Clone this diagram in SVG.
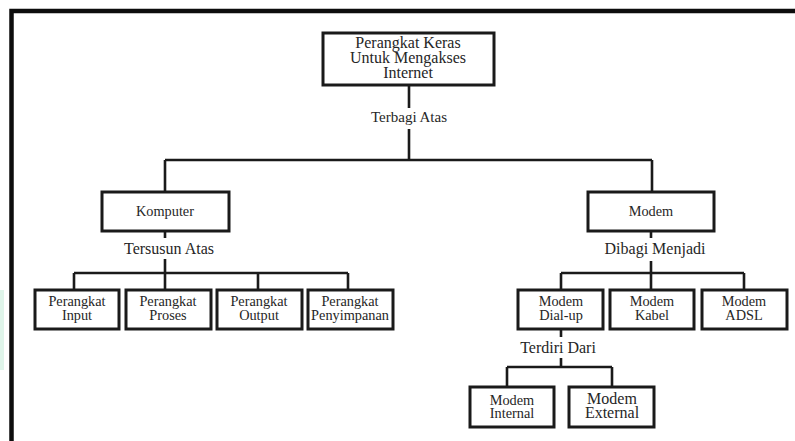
<svg xmlns="http://www.w3.org/2000/svg" width="795" height="441" viewBox="0 0 795 441">
  <style>
    .box { fill: #ffffff; stroke: #1a1a1a; stroke-width: 3; }
    .wire { fill: none; stroke: #1a1a1a; stroke-width: 2.6; }
    text { font-family: "Liberation Serif", "Times New Roman", serif; fill: #262626; text-anchor: middle; }
    .t16 { font-size: 16px; }
    .t15 { font-size: 15px; }
    .t14 { font-size: 14.3px; }
  </style>

  <!-- page background and frame -->
  <rect x="0" y="0" width="795" height="441" fill="#ffffff"/>
  <rect x="0" y="290" width="4" height="80" fill="#dff5ea"/>
  <path d="M11.5 441 V11 H795" fill="none" stroke="#0d0d0d" stroke-width="4.5"/>

  <!-- connectors -->
  <g id="connectors">
    <!-- root -->
    <path class="wire" d="M409 85 V108 M409 129 V160"/>
    <path class="wire" d="M165 160 H652 M165 160 V192 M652 160 V192"/>
    <!-- komputer -->
    <path class="wire" d="M165 231 V238 M165 259 V273"/>
    <path class="wire" d="M74 273 H348 M74 273 V290 M165 273 V290 M258 273 V290 M348 273 V290"/>
    <!-- modem -->
    <path class="wire" d="M651 231 V238 M651 261 V273"/>
    <path class="wire" d="M561 273 H744 M561 273 V290 M651 273 V290 M744 273 V290"/>
    <!-- dial-up -->
    <path class="wire" d="M561 330 V337 M561 358 V367"/>
    <path class="wire" d="M507 367 H612 M507 367 V387 M612 367 V387"/>
  </g>

  <!-- edge labels -->
  <text class="t15" x="409" y="122">Terbagi Atas</text>
  <text class="t16" x="169" y="254">Tersusun Atas</text>
  <text class="t16" x="655" y="254">Dibagi Menjadi</text>
  <text class="t16" x="558" y="353">Terdiri Dari</text>

  <!-- nodes -->
  <g id="root">
    <rect class="box" x="323" y="33" width="171" height="52"/>
    <text class="t16" x="408" y="48">Perangkat Keras</text>
    <text class="t16" x="408" y="63">Untuk Mengakses</text>
    <text class="t16" x="408" y="78">Internet</text>
  </g>

  <g id="komputer">
    <rect class="box" x="102" y="192" width="127" height="39"/>
    <text class="t14" x="165" y="216">Komputer</text>
  </g>

  <g id="modem">
    <rect class="box" x="588" y="192" width="126" height="39"/>
    <text class="t14" x="651" y="216">Modem</text>
  </g>

  <g id="input">
    <rect class="box" x="35" y="290" width="84" height="39"/>
    <text class="t14" x="77" y="306">Perangkat</text>
    <text class="t14" x="77" y="320">Input</text>
  </g>
  <g id="proses">
    <rect class="box" x="126" y="290" width="85" height="39"/>
    <text class="t14" x="168" y="306">Perangkat</text>
    <text class="t14" x="168" y="320">Proses</text>
  </g>
  <g id="output">
    <rect class="box" x="217" y="290" width="85" height="39"/>
    <text class="t14" x="259" y="306">Perangkat</text>
    <text class="t14" x="259" y="320">Output</text>
  </g>
  <g id="penyimpanan">
    <rect class="box" x="308" y="290" width="85" height="39"/>
    <text class="t14" x="350" y="306">Perangkat</text>
    <text class="t14" x="350" y="320">Penyimpanan</text>
  </g>

  <g id="dialup">
    <rect class="box" x="518" y="290" width="85" height="39"/>
    <text class="t14" x="561" y="306">Modem</text>
    <text class="t14" x="561" y="320">Dial-up</text>
  </g>
  <g id="kabel">
    <rect class="box" x="610" y="290" width="84" height="39"/>
    <text class="t14" x="652" y="306">Modem</text>
    <text class="t14" x="652" y="320">Kabel</text>
  </g>
  <g id="adsl">
    <rect class="box" x="702" y="290" width="85" height="39"/>
    <text class="t14" x="744" y="306">Modem</text>
    <text class="t14" x="744" y="320">ADSL</text>
  </g>

  <g id="internal">
    <rect class="box" x="470" y="387" width="84" height="40"/>
    <text class="t14" x="512" y="405">Modem</text>
    <text class="t14" x="512" y="418">Internal</text>
  </g>
  <g id="external">
    <rect class="box" x="569" y="387" width="85" height="40"/>
    <text class="t16" x="612" y="404">Modem</text>
    <text class="t16" x="612" y="418">External</text>
  </g>
</svg>
